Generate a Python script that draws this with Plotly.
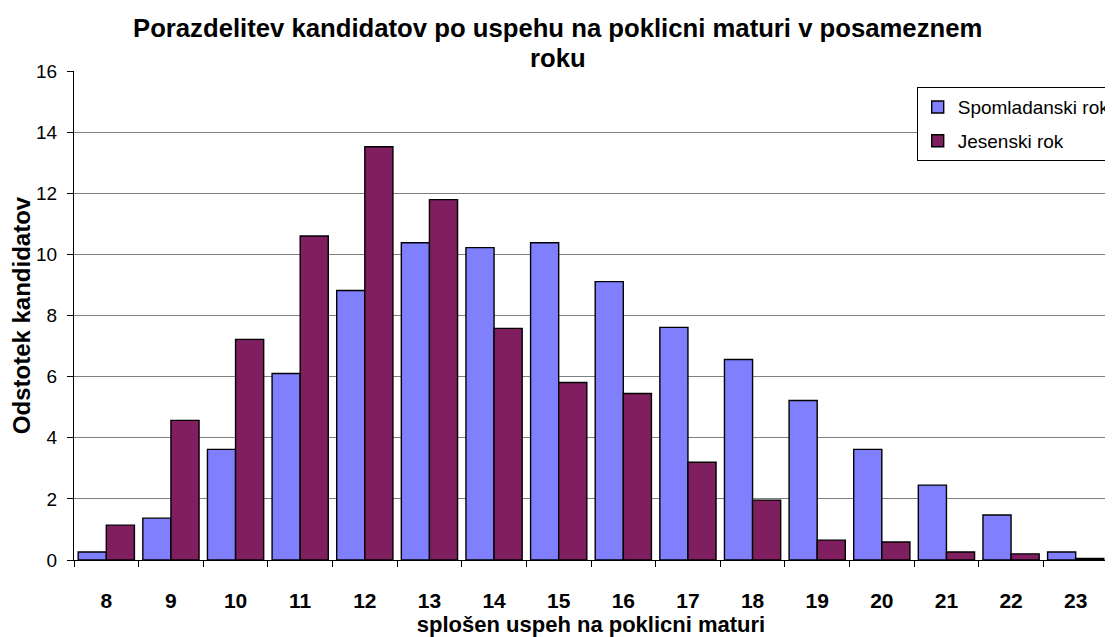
import plotly.graph_objects as go

categories = ["8", "9", "10", "11", "12", "13", "14", "15", "16", "17", "18", "19", "20", "21", "22", "23"]
spomladanski = [0.26, 1.37, 3.62, 6.1, 8.82, 10.38, 10.22, 10.38, 9.11, 7.61, 6.56, 5.22, 3.62, 2.45, 1.47, 0.26]
jesenski = [1.14, 4.57, 7.22, 10.6, 13.52, 11.79, 7.58, 5.81, 5.45, 3.2, 1.96, 0.65, 0.59, 0.26, 0.2, 0.05]
y_ticks = [0, 2, 4, 6, 8, 10, 12, 14, 16]
title_lines = ["Porazdelitev kandidatov po uspehu na poklicni maturi v posameznem", "roku"]

FONT = "Liberation Sans, Arial, sans-serif"

# page body has an 8px margin; size the figure so the plot area lands where the reference has it
W, H = 1105, 629
ML, MR, MT, MB = 66, 5, 63, 77
plot_h = H - MT - MB

fig = go.Figure()
fig.add_trace(go.Bar(x=categories, y=spomladanski, name="Spomladanski rok", legendgroup="a",
                     marker=dict(color="#8080FF", line=dict(color="black", width=1.4))))
fig.add_trace(go.Bar(x=categories, y=jesenski, name="Jesenski rok", legendgroup="b",
                     marker=dict(color="#7F1F5F", line=dict(color="black", width=1.4))))

fig.update_layout(
    width=W, height=H,
    margin=dict(l=ML, r=MR, t=MT, b=MB, autoexpand=False),
    paper_bgcolor="white", plot_bgcolor="white",
    barmode="group", bargap=0.13, bargroupgap=0,
    font=dict(family=FONT, color="black"),
    legend=dict(x=0.815, y=0.967, xanchor="left", yanchor="top",
                bgcolor="white", bordercolor="black", borderwidth=1,
                font=dict(size=19, family=FONT), tracegroupgap=6, itemwidth=30),
    xaxis=dict(type="category", showline=True, linecolor="black", linewidth=1,
               ticks="outside", ticklen=6, tickcolor="black", tickson="boundaries",
               tickfont=dict(size=21, family=FONT), ticklabelstandoff=22,
               tickprefix="<b>", ticksuffix="</b>", automargin=False,
               title=dict(text="<b>splošen uspeh na poklicni maturi</b>", font=dict(size=22, family=FONT), standoff=3),
               showgrid=False),
    yaxis=dict(range=[0, 16], tickvals=y_ticks, showline=True, linecolor="black", linewidth=1,
               ticks="outside", ticklen=6, tickcolor="black", ticklabelstandoff=6,
               showgrid=True, gridcolor="#808080", gridwidth=1, automargin=False,
               tickfont=dict(size=19, family=FONT),
               title=dict(text="<b>Odstotek kandidatov</b>", font=dict(size=24, family=FONT), standoff=4),
               zeroline=False),
)

title_py = [20, 50]
for txt, py in zip(title_lines, title_py):
    fig.add_annotation(text="<b>" + txt + "</b>", xref="paper", yref="paper",
                       x=0.468, y=(MT + plot_h - py) / plot_h, xanchor="center", yanchor="middle",
                       showarrow=False, font=dict(size=25.7, family=FONT))

fig.write_html("out.html")
